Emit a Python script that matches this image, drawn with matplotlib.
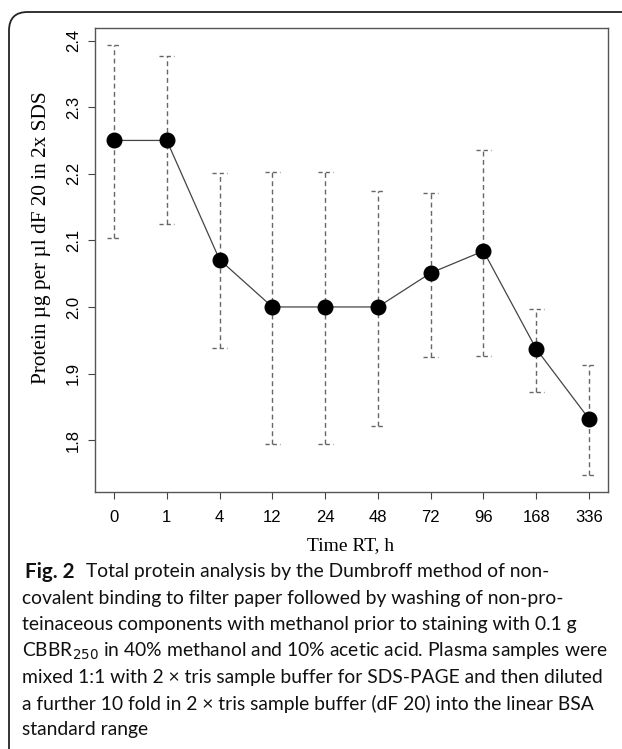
import matplotlib.pyplot as plt
from matplotlib.patches import FancyBboxPatch
import numpy as np

# Datos
tiempos = ['0', '1', '4', '12', '24', '48', '72', '96', '168', '336']
proteina = [2.250, 2.250, 2.071, 2.000, 2.000, 2.000, 2.051, 2.084, 1.937, 1.832]
error_sup = [2.393, 2.377, 2.201, 2.203, 2.203, 2.174, 2.171, 2.235, 1.997, 1.913]
error_inf = [2.104, 2.125, 1.938, 1.795, 1.795, 1.822, 1.925, 1.927, 1.872, 1.748]
yticks = [1.8, 1.9, 2.0, 2.1, 2.2, 2.3, 2.4]

leyenda = [
    "covalent binding to filter paper followed by washing of non-pro-",
    "teinaceous components with methanol prior to staining with 0.1 g",
    "CBBR$_{250}$ in 40% methanol and 10% acetic acid. Plasma samples were",
    "mixed 1:1 with 2 \u00d7 tris sample buffer for SDS-PAGE and then diluted",
    "a further 10 fold in 2 \u00d7 tris sample buffer (dF 20) into the linear BSA",
    "standard range",
]

W, H = 622, 749
fig = plt.figure(figsize=(W / 100, H / 100), dpi=100)

# marco redondeado de la pagina
marco = FancyBboxPatch((9 / W, -20 / H), 640 / W, (H - 12 + 20) / H,
                       boxstyle="round,pad=0,rounding_size=0.03",
                       transform=fig.transFigure, fill=False,
                       edgecolor='#222222', linewidth=1.3, mutation_aspect=W / H)
fig.patches.append(marco)

ax = fig.add_axes([95 / W, 1 - 492 / H, (608 - 95) / W, (492 - 28) / H])
x = np.arange(len(tiempos))

# barras de error punteadas (estilo R)
cap = 0.14
gris = '#666666'
ax.vlines(x, error_inf, error_sup, colors=gris, linestyles=(0, (3.5, 2.5)), linewidth=1.0)
ax.hlines(error_sup, x - cap, x + cap, colors=gris, linestyles=(0, (3, 2.2)), linewidth=1.0)
ax.hlines(error_inf, x - cap, x + cap, colors=gris, linestyles=(0, (3, 2.2)), linewidth=1.0)
ax.plot(x, proteina, color='#444444', linewidth=0.9, marker='o', markersize=10.5,
        markerfacecolor='black', markeredgecolor='black')

rango = max(error_sup) - min(error_inf)
ax.set_ylim(min(error_inf) - 0.04 * rango, max(error_sup) + 0.04 * rango)
ax.set_xlim(-0.36, 9.36)

ax.set_xticks(x)
ax.set_xticklabels(tiempos, fontsize=12, family='Liberation Sans')
ax.set_yticks(yticks)
ax.set_yticklabels([f"{v:.1f}" for v in yticks], fontsize=12, family='Liberation Sans',
                   rotation=90, va='center')
ax.tick_params(axis='both', direction='out', length=5, width=0.8, color='#444444')
ax.tick_params(axis='x', pad=8)
ax.tick_params(axis='y', pad=5)
for s in ax.spines.values():
    s.set_color('#555555')
    s.set_linewidth(1.0)

fig.text(351 / W, 1 - 546 / H, 'Time RT, h', family='Liberation Serif', fontsize=14,
         ha='center', va='center')
fig.text(42 / W, 1 - 238 / H, 'Protein \u00b5g per \u00b5l dF 20 in 2x SDS', family='Liberation Serif',
         fontsize=15.3, rotation=90, ha='center', va='center')

# leyenda de la figura
fs = 13.9
r = fig.canvas.get_renderer()
t = fig.text(25 / W, 1 - 572 / H, 'Fig. 2', family='Lato', weight='bold', fontsize=fs + 1,
             va='center', color='#111111')
ancho = t.get_window_extent(r).width
fig.text((25 + ancho + 11) / W, 1 - 572 / H,
         'Total protein analysis by the Dumbroff method of non-', family='Lato',
         fontsize=fs, va='center', color='#111111')
for i, linea in enumerate(leyenda):
    fig.text(22 / W, 1 - (598.5 + 26.3 * i) / H, linea, family='Lato', fontsize=fs,
             va='center', color='#111111')

fig.savefig('out.png', dpi=100)
